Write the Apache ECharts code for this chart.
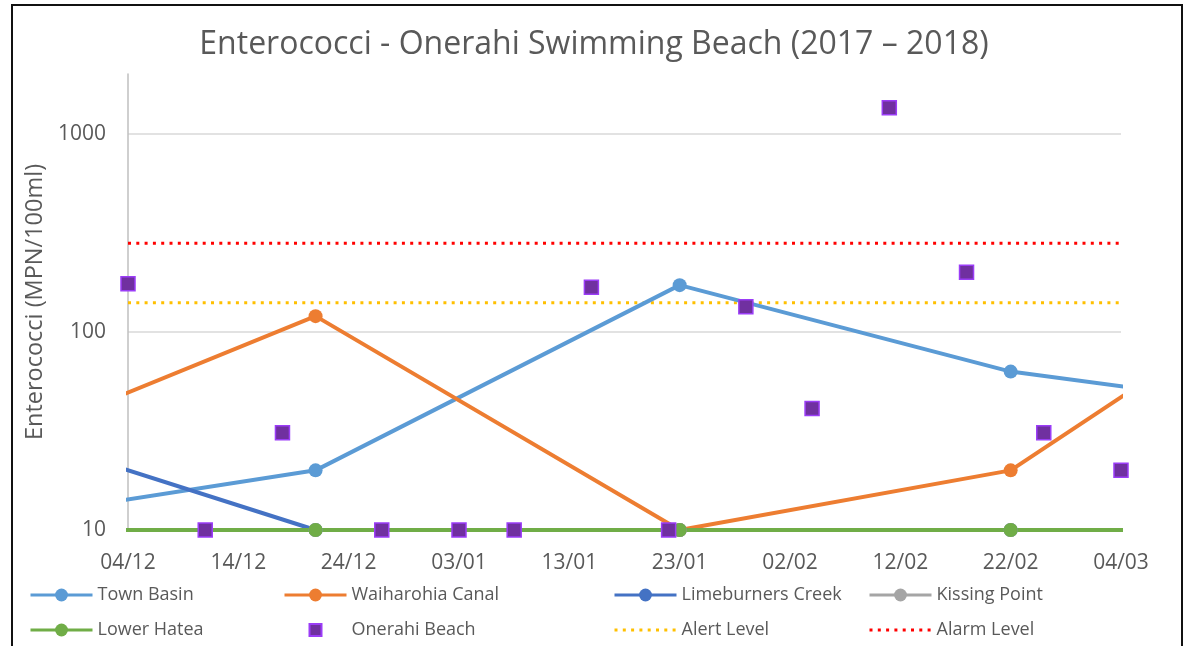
<!DOCTYPE html>
<html>
<head>
<meta charset="utf-8">
<title>Enterococci - Onerahi Swimming Beach</title>
<script src="https://cdn.jsdelivr.net/npm/echarts@6/dist/echarts.min.js"></script>
<style>
  html, body { margin: 0; padding: 0; background: #fff; }
  #main { width: 1188px; height: 646px; }
</style>
</head>
<body>
<div id="main"></div>
<script>
// --- data ---
var startDate = '2017-12-04';
var siteDates = ['2017-11-21', '2017-12-21', '2018-01-23', '2018-02-22', '2018-03-22'];
var townBasin = [11, 20, 172, 63, 39];
var waiharohia = [25, 120, 10, 20, 216];
var limeburners = [34, 10, 10, 10, 10];
var kissingPoint = [10, 10, 10, 10, 10];
var lowerHatea = [10, 10, 10, 10, 10];

var onerahiDates = ['2017-12-04', '2017-12-11', '2017-12-18', '2017-12-27', '2018-01-03', '2018-01-08',
                    '2018-01-15', '2018-01-22', '2018-01-29', '2018-02-04', '2018-02-11', '2018-02-18',
                    '2018-02-25', '2018-03-04'];
var onerahi = [175, 10, 31, 10, 10, 10, 168, 10, 134, 41, 1350, 200, 31, 20];

var levelDates = ['2017-12-04', '2018-03-04'];
var alertLevel = [140, 140];
var alarmLevel = [280, 280];

var xMin = 0, xMax = 90, xStep = 10;   // days from startDate
var yMin = 10, yMax = 2000;

var DAY = 86400000;
var t0 = Date.parse(startDate);
function dayOf(d) { return (Date.parse(d) - t0) / DAY; }
function pairs(dates, vals) {
  return dates.map(function (d, i) { return [dayOf(d), vals[i]]; });
}
function pad(n) { return (n < 10 ? '0' : '') + n; }
function dayLabel(v) {
  var d = new Date(t0 + v * DAY);
  return pad(d.getUTCDate()) + '/' + pad(d.getUTCMonth() + 1);
}

var font = 'Open Sans';
var txt = '#595959';

function siteLine(name, color, vals) {
  return {
    name: name, type: 'line', data: pairs(siteDates, vals),
    symbol: 'circle', symbolSize: 14,
    lineStyle: { color: color, width: 4 },
    itemStyle: { color: color },
    clip: true
  };
}
function levelLine(name, color, vals) {
  return {
    name: name, type: 'line', data: pairs(levelDates, vals),
    symbol: 'none',
    lineStyle: { color: color, width: 3, type: [3, 5.3] },
    itemStyle: { color: color },
    z: 2
  };
}

// square with some empty room so the legend icon comes out ~12px
var square = 'path://M0,0M16,16M2,2L14,2L14,14L2,14Z';
function legendAt(left, names) {
  return {
    orient: 'vertical', left: left, top: 585, padding: 0,
    itemWidth: 62, itemHeight: 16, itemGap: 15,
    symbolKeepAspect: true,
    lineStyle: { width: 3 },
    textStyle: { fontFamily: font, fontSize: 18, color: txt, lineHeight: 20 },
    data: names
  };
}
function noMarker(name) { return { name: name, itemStyle: { opacity: 0 } }; }

var chart = echarts.init(document.getElementById('main'));
chart.setOption({
  animation: false,
  backgroundColor: '#fff',
  title: {
    text: 'Enterococci - Onerahi Swimming Beach (2017 \u2013 2018)',
    left: 'center', top: 24,
    textStyle: { fontFamily: font, fontSize: 32, fontWeight: 'normal', color: txt }
  },
  graphic: [{
    type: 'rect', shape: { x: 12, y: 5, width: 1170, height: 700 },
    style: { fill: 'none', stroke: '#111', lineWidth: 2 }, silent: true
  }],
  legend: [
    legendAt(29, ['Town Basin', 'Lower Hatea']),
    legendAt(283, ['Waiharohia Canal', { name: 'Onerahi Beach', icon: square }]),
    legendAt(613, ['Limeburners Creek', noMarker('Alert Level')]),
    legendAt(868, ['Kissing Point', noMarker('Alarm Level')])
  ],
  grid: { left: 128, right: 67, top: 74, bottom: 116 },
  xAxis: {
    type: 'value', min: xMin, max: xMax, interval: xStep,
    axisLine: { show: true, lineStyle: { color: '#D9D9D9', width: 1.5 } },
    axisTick: { show: false },
    splitLine: { show: false },
    axisLabel: { formatter: dayLabel, fontFamily: font, fontSize: 21, color: txt, margin: 23 }
  },
  yAxis: {
    type: 'log', logBase: 10, min: yMin, max: yMax,
    name: 'Enterococci (MPN/100ml)', nameLocation: 'middle', nameGap: 81,
    nameTextStyle: { fontFamily: font, fontSize: 23.5, color: txt },
    axisLine: { show: true, lineStyle: { color: '#BFBFBF', width: 1.5 } },
    axisTick: { show: false },
    splitLine: { show: true, showMaxLine: false, lineStyle: { color: '#D9D9D9', width: 1.5 } },
    axisLabel: {
      showMaxLabel: false, fontFamily: font, fontSize: 21, color: txt, margin: 22,
      formatter: function (v) { return String(Math.round(v)); }
    }
  },
  series: [
    siteLine('Town Basin', '#5B9BD5', townBasin),
    siteLine('Waiharohia Canal', '#ED7D31', waiharohia),
    siteLine('Limeburners Creek', '#4472C4', limeburners),
    siteLine('Kissing Point', '#A5A5A5', kissingPoint),
    siteLine('Lower Hatea', '#70AD47', lowerHatea),
    {
      name: 'Onerahi Beach', type: 'scatter', data: pairs(onerahiDates, onerahi),
      symbol: 'rect', symbolSize: 14, z: 4,
      itemStyle: { color: '#7030A0', borderColor: '#9B3DF7', borderWidth: 1.5, opacity: 1 }
    },
    levelLine('Alert Level', '#FFC000', alertLevel),
    levelLine('Alarm Level', '#FF0000', alarmLevel)
  ]
});
</script>
</body>
</html>
